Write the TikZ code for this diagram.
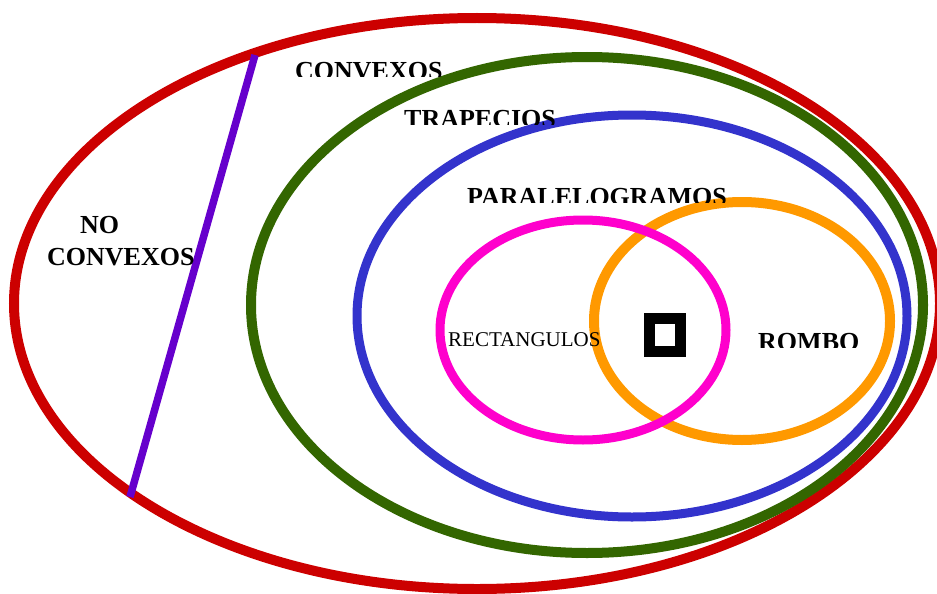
\documentclass[tikz,border=0pt]{standalone}
\usepackage{fontspec}
\setmainfont{Liberation Serif}
\usetikzlibrary{positioning}

\definecolor{setred}{HTML}{CC0000}
\definecolor{setgreen}{HTML}{336600}
\definecolor{setblue}{HTML}{3333CC}
\definecolor{setpink}{HTML}{FF00CC}
\definecolor{setorange}{HTML}{FF9900}
\definecolor{setviolet}{HTML}{6600CC}

\begin{document}
\begin{tikzpicture}[x=1pt, y=-1pt,
    setname/.style={font=\fontsize{26}{32}\selectfont\bfseries, anchor=base west, inner sep=0pt},
    subname/.style={font=\fontsize{21}{26}\selectfont, anchor=base west, inner sep=0pt}]

  \useasboundingbox (0,0) rectangle (937,594);

 %nested sets
    \foreach \cx/\cy/\rx/\ry/\col/\w in { 477/303.5/463/285.5/setred/10, 587/305/336/248/setgreen/10, 632/316/275/201/setblue/9, 742/321/148/119/setorange/10, 583/330/143/110/setpink/9} {
         \draw[\col, line width=\w pt] (\cx,\cy) ellipse [x radius=\rx, y radius=\ry];
    }

 %dividing line
    \coordinate (cuttop) at (255,55);
    \coordinate (cutbot) at (130,497);
    \draw[setviolet, line width=7.5pt] (cuttop) -- (cutbot);

 %labels (cut off just above the baseline)
    \foreach \x/\y/\txt/\name in { 295/79/CONVEXOS/conv, 404/127/TRAPECIOS/trap, 467/205/PARALELOGRAMOS/paral, 758/350/ROMBO/rombo} {
         \begin{scope}
           \clip (\x-5, \y-2.5) rectangle (\x+300, \y-40);
           \node[setname] (\name) at (\x,\y) {\txt};
         \end{scope}
    }
    \node[setname] (no) at (80,233) {NO};
    \node[setname] (noconv) at (47,265) {CONVEXOS};
    \node[subname] (rect) at (448,346) {RECTANGULOS};

 %square
    \node[draw, line width=11pt, minimum width=31pt, minimum height=33pt, inner sep=0pt] (sq) at (665,335) {};

\end{tikzpicture}
\end{document}
